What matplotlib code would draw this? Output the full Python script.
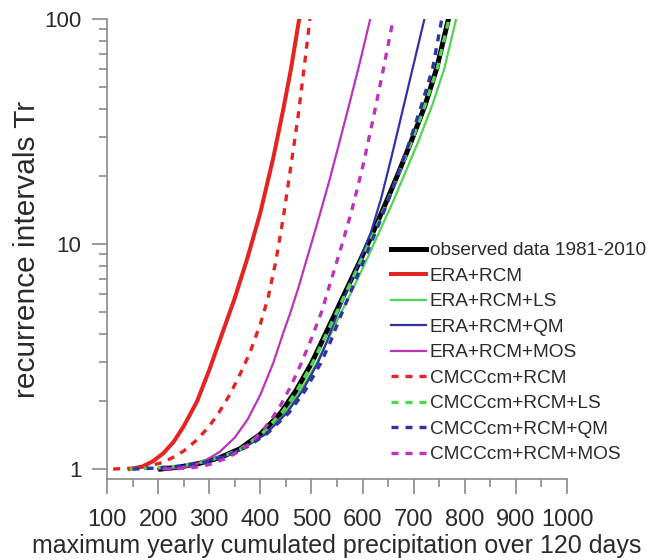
import matplotlib
matplotlib.use('Agg')
import matplotlib.pyplot as plt
from matplotlib.ticker import FixedLocator, NullFormatter

plt.rcParams['font.family'] = ['Liberation Sans', 'DejaVu Sans']

# precipitation (mm) vs recurrence interval Tr (years)
obs_x = [205, 240, 280, 320, 360, 400, 440, 470, 500, 520, 545, 570, 595, 620, 645, 670, 695, 722, 745, 768]
obs_t = [1.0, 1.019, 1.059, 1.122, 1.23, 1.429, 1.778, 2.239, 2.951, 3.673, 4.842, 6.383, 8.414,
         11.22, 15.14, 20.65, 28.51, 41.21, 60.26, 100]

era_x = [145, 150, 170, 190, 210, 230, 250, 276, 300, 325, 350, 375, 400, 425, 445, 460, 476]
era_t = [1.0, 1.005, 1.028, 1.084, 1.175, 1.318, 1.549, 1.995, 2.754, 3.981, 5.754, 8.71,
         13.8, 23.99, 39.81, 60.26, 100]

era_ls_x = [210, 245, 285, 325, 365, 405, 448, 479, 510, 530, 556, 582, 607, 632, 658, 683, 709, 736, 760, 783]
era_ls_t = [1.0, 1.019, 1.059, 1.122, 1.23, 1.429, 1.778, 2.239, 2.951, 3.673, 4.842, 6.383, 8.414,
            11.22, 15.14, 20.65, 28.51, 41.21, 60.26, 100]

era_qm_x = [200, 236, 278, 322, 365, 410, 452, 483, 512, 530, 550, 572, 594, 616, 636, 658, 679, 700, 721]
era_qm_t = [1.0, 1.019, 1.059, 1.122, 1.23, 1.429, 1.778, 2.239, 2.951, 3.673, 4.842, 6.383, 8.414,
            11.22, 15.85, 25.12, 39.81, 63.1, 100]

era_mos_x = [210, 230, 260, 290, 320, 350, 375, 400, 425, 444, 458, 475, 495, 515, 536, 555, 575, 595, 615]
era_mos_t = [1.0, 1.007, 1.028, 1.084, 1.19, 1.38, 1.66, 2.14, 2.95, 3.98, 4.9, 6.46, 9.23,
             13.2, 19.5, 28.5, 42.7, 64.6, 100]

cm_x = [112, 150, 180, 210, 230, 250, 276, 300, 320, 340, 360, 380, 400, 415, 430, 445, 460, 474, 486, 497]
cm_t = [1.0, 1.009, 1.028, 1.072, 1.13, 1.202, 1.349, 1.549, 1.799, 2.138, 2.63, 3.311, 4.416,
        5.754, 8.318, 13.18, 22.39, 37.15, 61.66, 100]

cm_ls_x = [145, 185, 235, 285, 325, 362, 402, 442, 472, 502, 522, 547, 572, 597, 622, 647, 671, 696, 722, 746, 769]
cm_ls_t = [1.0, 1.009, 1.028, 1.072, 1.135, 1.23, 1.429, 1.778, 2.239, 2.951, 3.673, 4.842, 6.383,
           8.414, 11.22, 15.14, 20.65, 28.51, 41.21, 60.26, 100]

cm_qm_x = [150, 190, 240, 290, 335, 375, 412, 456, 488, 518, 537, 558, 580, 602, 625, 648, 670, 692, 715, 737, 755]
cm_qm_t = [1.0, 1.009, 1.028, 1.072, 1.148, 1.259, 1.429, 1.778, 2.239, 2.951, 3.673, 4.842, 6.383,
           8.414, 11.22, 15.14, 20.65, 28.51, 41.21, 60.26, 100]

cm_mos_x = [210, 240, 270, 300, 330, 360, 380, 400, 420, 440, 460, 480, 500, 520, 540, 560, 579, 600, 621, 640, 660]
cm_mos_t = [1.0, 1.005, 1.016, 1.047, 1.109, 1.202, 1.303, 1.445, 1.641, 1.928, 2.344, 2.951, 3.802,
            5.012, 7.079, 10.0, 14.13, 21.88, 36.31, 58.88, 100]

RED = '#e52421'
GREEN = '#4fd64f'
BLUE = '#3232a8'
MAGENTA = '#bb34bb'
DASH = (2.1, 2.1)

fig = plt.figure(figsize=(6.59, 5.6), dpi=100)
ax = fig.add_axes([0.1624, 0.1446, 0.698, 0.8214])

ax.plot(obs_x, obs_t, color='black', lw=3.6, label='observed data 1981-2010', zorder=3)
ax.plot(era_x, era_t, color=RED, lw=2.9, label='ERA+RCM', zorder=3)
ax.plot(era_ls_x, era_ls_t, color=GREEN, lw=1.6, label='ERA+RCM+LS', zorder=2)
ax.plot(era_qm_x, era_qm_t, color=BLUE, lw=1.6, label='ERA+RCM+QM', zorder=3)
ax.plot(era_mos_x, era_mos_t, color=MAGENTA, lw=1.6, label='ERA+RCM+MOS', zorder=3)
ax.plot(cm_x, cm_t, color=RED, lw=2.4, dashes=DASH, label='CMCCcm+RCM', zorder=4)
ax.plot(cm_ls_x, cm_ls_t, color=GREEN, lw=2.4, dashes=DASH, label='CMCCcm+RCM+LS', zorder=4)
ax.plot(cm_qm_x, cm_qm_t, color=BLUE, lw=2.4, dashes=DASH, label='CMCCcm+RCM+QM', zorder=4)
ax.plot(cm_mos_x, cm_mos_t, color=MAGENTA, lw=2.4, dashes=DASH, label='CMCCcm+RCM+MOS', zorder=4)

ax.set_yscale('log')
ax.set_xlim(100, 1000)
ax.set_ylim(0.903, 100)

grey = '#8a8a8a'
for s in ['top', 'right']:
    ax.spines[s].set_visible(False)
for s in ['left', 'bottom']:
    ax.spines[s].set_color(grey)
    ax.spines[s].set_linewidth(1.2)

ax.xaxis.set_major_locator(FixedLocator(range(100, 1001, 100)))
ax.xaxis.set_minor_locator(FixedLocator(range(150, 1000, 100)))
ax.yaxis.set_major_locator(FixedLocator([1, 10, 100]))
ax.yaxis.set_minor_locator(FixedLocator([2, 3, 4, 5, 6, 7, 8, 9, 20, 30, 40, 50, 60, 70, 80, 90]))
ax.yaxis.set_minor_formatter(NullFormatter())
ax.set_yticklabels(['1', '10', '100'])

ax.tick_params(axis='both', which='major', length=10.5, width=1.2, color=grey, labelcolor='#2a2a2a')
ax.tick_params(axis='both', which='minor', length=6, width=1.2, color=grey)
ax.tick_params(axis='x', which='major', labelsize=17, pad=11)
ax.tick_params(axis='y', which='major', labelsize=16, pad=8)

ax.set_xlabel('maximum yearly cumulated precipitation over 120 days', fontsize=18, color='#2a2a2a', labelpad=2)
ax.set_ylabel('recurrence intervals Tr', fontsize=21.5, color='#2a2a2a', labelpad=2)

leg = ax.legend(loc='upper left', bbox_to_anchor=(0.617, 0.515), frameon=False, fontsize=13.7,
                handlelength=1.85, handletextpad=0.2, labelspacing=0.43, borderpad=0, borderaxespad=0)
for t in leg.get_texts():
    t.set_color('#2a2a2a')

fig.savefig('out.png', dpi=100)
